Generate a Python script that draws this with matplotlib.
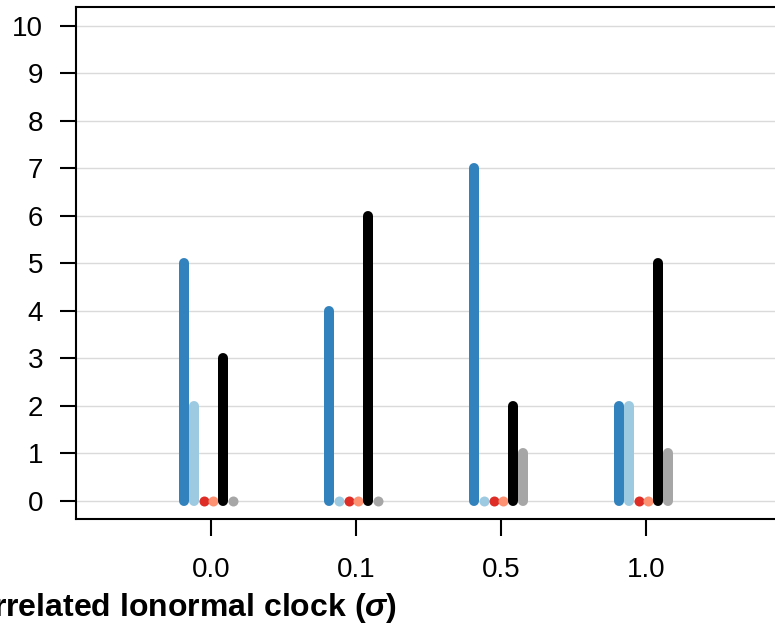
import matplotlib
matplotlib.use("Agg")
import matplotlib.pyplot as plt
import numpy as np

plt.rcParams['font.family'] = ['Liberation Sans', 'DejaVu Sans']
plt.rcParams['mathtext.fontset'] = 'custom'
plt.rcParams['mathtext.it'] = 'Liberation Sans:bold:italic'
plt.rcParams['mathtext.rm'] = 'Liberation Sans:bold'

# data
categories = ["0.0", "0.1", "0.5", "1.0"]
series_colors = ["#3182bd", "#9ecae1", "#de2d26", "#fc9272", "#000000", "#a6a6a6"]
counts = [
    [5, 4, 7, 2],   # dark blue
    [2, 0, 0, 2],   # light blue
    [0, 0, 0, 0],   # red
    [0, 0, 0, 0],   # salmon
    [3, 6, 2, 5],   # black
    [0, 0, 1, 1],   # gray
]
yticks = list(range(0, 11))

fig = plt.figure(figsize=(7.75, 6.24), dpi=100)
ax = fig.add_axes([76 / 775, 105 / 624, 1 - 76 / 775, (519 - 7) / 624])

xpos = np.arange(1, len(categories) + 1)
step = 0.068
shift = -0.017
lw = 7.2

for i, (vals, col) in enumerate(zip(counts, series_colors)):
    xs = xpos + (i - 2.5) * step + shift
    for x, v in zip(xs, vals):
        if v > 0:
            ax.plot([x, x], [0, v], color=col, lw=lw, solid_capstyle='round', zorder=3)
        else:
            ax.plot([x], [0], 'o', color=col, markersize=lw, markeredgewidth=0, zorder=3)

ax.set_xlim(1 - 135 / 145, 1 + 564 / 145)
ax.set_ylim(-0.379, 10.4)
ax.set_xticks(xpos)
ax.set_xticklabels(categories)
ax.set_yticks(yticks)

for y in yticks:
    ax.axhline(y, color="#dadada", lw=1, zorder=1)

for s in ["left", "bottom", "top"]:
    ax.spines[s].set_linewidth(1.5)
ax.spines["right"].set_visible(False)

ax.tick_params(axis='y', length=11.5, width=1.5, pad=12, labelsize=20)
ax.tick_params(axis='x', length=12.5, width=1.5, pad=15, labelsize=20)

fig.text(397 / 775, 1 - 616 / 624, r"Uncorrelated lonormal clock ($\sigma$)",
         ha='right', va='baseline', fontsize=23, fontweight='bold')

fig.savefig("out.png", dpi=100)
